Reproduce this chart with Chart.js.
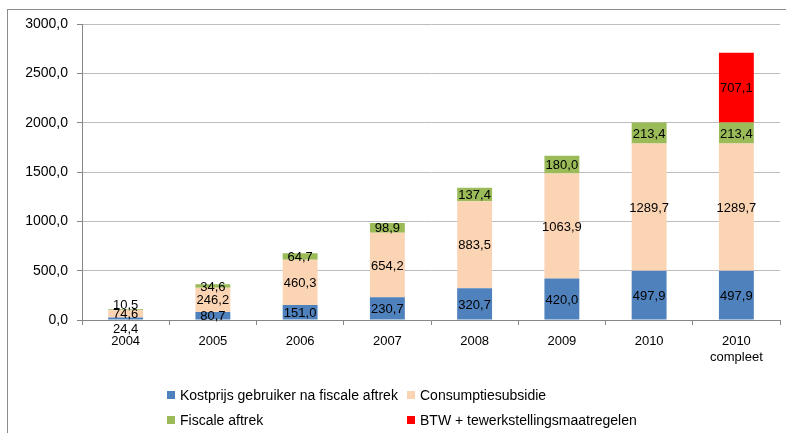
<!DOCTYPE html>
<html>
<head>
<meta charset="utf-8">
<script src="https://cdn.jsdelivr.net/npm/chart.js@4"></script>
<style>
  body { margin: 0; background: #fff; }
  #wrap { position: relative; width: 786px; height: 433px; }
  #legend { position: absolute; left: 167px; top: 387px; display: grid;
    grid-template-columns: 240px 240px; row-gap: 9px;
    font-family: "Liberation Sans", sans-serif; font-size: 14px; color: #000; }
  #legend div { display: flex; align-items: center; height: 16px; }
  #legend span { display: inline-block; width: 8px; height: 8px; margin-right: 5px; }
</style>
</head>
<body>
<div id="wrap">
  <canvas id="myChart" width="786" height="433"></canvas>
  <div id="legend"></div>
</div>
<script>
var categories = ['2004', '2005', '2006', '2007', '2008', '2009', '2010', ['2010', 'compleet']];
var kostprijs = [24.4, 80.7, 151.0, 230.7, 320.7, 420.0, 497.9, 497.9];
var consumptie = [74.6, 246.2, 460.3, 654.2, 883.5, 1063.9, 1289.7, 1289.7];
var fiscaal = [10.5, 34.6, 64.7, 98.9, 137.4, 180.0, 213.4, 213.4];
var btw = [0, 0, 0, 0, 0, 0, 0, 707.1];
var yTicks = [0, 500, 1000, 1500, 2000, 2500, 3000];

var font = "Liberation Sans";

function fmt(v) {
    return v.toFixed(1).replace('.', ',');
}

// draw the numbers on the bar segments
var labelPlugin = {
    id: 'segLabels',
    afterDatasetsDraw: function (chart) {
        var c = chart.ctx;
        var yScale = chart.scales.y;
        c.save();
        c.font = '13px "' + font + '"';
        c.fillStyle = '#000';
        c.textAlign = 'center';
        c.textBaseline = 'middle';
        chart.data.datasets.forEach(function (ds, di) {
            var meta = chart.getDatasetMeta(di);
            meta.data.forEach(function (el, i) {
                var v = ds.data[i];
                if (!v) return;
                var y = (el.y + el.base) / 2;
                // very short bar: spread the labels out like Excel does
                var total = kostprijs[i] + consumptie[i] + fiscaal[i] + btw[i];
                if (yScale.getPixelForValue(0) - yScale.getPixelForValue(total) < 20) {
                    if (di === 0) y = el.base + 9;
                    else if (di === 2) y = el.y - 5;
                }
                c.fillText(fmt(v), el.x, y + 1);
            });
        });
        c.restore();
    }
};

var framePlugin = {
    id: 'frame',
    beforeDraw: function (chart) {
        var c = chart.ctx;
        c.save();
        c.strokeStyle = '#8c8c8c';
        c.lineWidth = 1;
        c.strokeRect(7.5, 9.5, 790, 440);
        c.restore();
    }
};

var ctx = document.getElementById('myChart').getContext('2d');
var chart = new Chart(ctx, {
    type: 'bar',
    data: {
        labels: categories,
        datasets: [{
            label: 'Kostprijs gebruiker na fiscale aftrek',
            backgroundColor: '#4F81BD',
            data: kostprijs
        }, {
            label: 'Consumptiesubsidie',
            backgroundColor: '#FBD4B4',
            data: consumptie
        }, {
            label: 'Fiscale aftrek',
            backgroundColor: '#9BBB59',
            data: fiscaal
        }, {
            label: 'BTW + tewerkstellingsmaatregelen',
            backgroundColor: '#FF0000',
            data: btw
        }]
    },
    options: {
        responsive: false,
        animation: false,
        categoryPercentage: 1,
        barPercentage: 0.4,
        layout: { padding: { top: 24, right: 6, bottom: 68, left: 0 } },
        plugins: {
            legend: { display: false },
            tooltip: { enabled: false }
        },
        scales: {
            x: {
                stacked: true,
                afterFit: function (s) { s.height = 45; },
                grid: { offset: true, drawOnChartArea: false, drawTicks: true, tickLength: 5, color: '#868686' },
                border: { color: '#868686' },
                ticks: { color: '#000', font: { family: font, size: 13 }, padding: 9, maxRotation: 0 }
            },
            y: {
                stacked: true,
                min: 0,
                max: 3000,
                afterFit: function (s) { s.width = 82; },
                afterBuildTicks: function (s) { s.ticks = yTicks.map(function (v) { return { value: v }; }); },
                grid: { color: '#bdbdbd', tickLength: 5, tickColor: '#868686' },
                border: { color: '#868686' },
                ticks: { color: '#000', font: { family: font, size: 14 }, padding: 9, callback: function (v) { return fmt(v); } }
            }
        }
    },
    plugins: [labelPlugin, framePlugin]
});

// two-column legend under the chart
var lg = document.getElementById('legend');
chart.data.datasets.forEach(function (ds) {
    var d = document.createElement('div');
    d.innerHTML = '<span style="background:' + ds.backgroundColor + '"></span>' + ds.label;
    lg.appendChild(d);
});
</script>
</body>
</html>
